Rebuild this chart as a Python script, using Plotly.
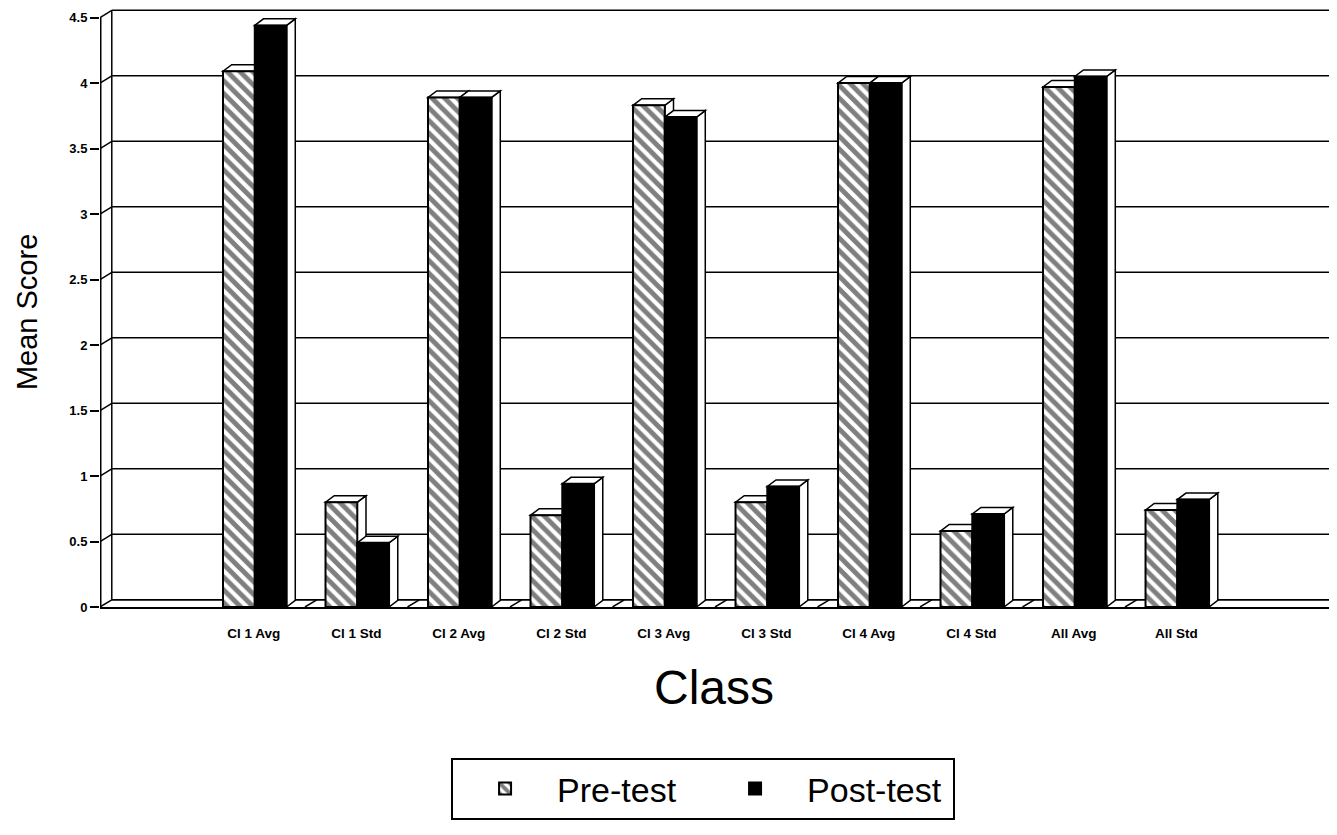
import plotly.graph_objects as go

# ---- data ----
categories = ["Cl 1 Avg", "Cl 1 Std", "Cl 2 Avg", "Cl 2 Std", "Cl 3 Avg",
              "Cl 3 Std", "Cl 4 Avg", "Cl 4 Std", "All Avg", "All Std"]
pre_test = [4.09, 0.80, 3.89, 0.70, 3.83, 0.80, 4.00, 0.58, 3.97, 0.74]
post_test = [4.44, 0.49, 3.89, 0.94, 3.74, 0.92, 4.00, 0.71, 4.05, 0.82]
y_tick_vals = [0, 0.5, 1, 1.5, 2, 2.5, 3, 3.5, 4, 4.5]
y_tick_text = ["0", "0.5", "1", "1.5", "2", "2.5", "3", "3.5", "4", "4.5"]

# ---- geometry / style ----
X_MIN, X_MAX = -1.5, 10.568
Y_MAX = 4.573
BAR_W = 0.31
PRE_OFF, POST_OFF = -0.30, 0.01
DX, DY = 0.085, 0.05          # bar depth
WDX, WDY = 0.115, 0.055       # wall / floor depth
LINE = dict(color="black", width=2)
FONT = "Liberation Sans, Arial, sans-serif"

xpos = list(range(len(categories)))

fig = go.Figure()
fig.add_bar(
    x=xpos, y=pre_test, width=BAR_W, offset=PRE_OFF, name="Pre-test",
    marker=dict(color="white", line=LINE,
                pattern=dict(shape="\\", fgcolor="black", bgcolor="white",
                             size=9, solidity=0.55)),
)
fig.add_bar(
    x=xpos, y=post_test, width=BAR_W, offset=POST_OFF, name="Post-test",
    marker=dict(color="black", line=LINE),
)

shapes = []


def seg(x0, y0, x1, y1, w=1.5):
    shapes.append(dict(type="line", xref="x", yref="y", x0=x0, y0=y0,
                       x1=x1, y1=y1, line=dict(color="black", width=w),
                       layer="below"))


# back-wall gridlines and left wall
for v in y_tick_vals:
    seg(X_MIN + WDX, v + WDY, X_MAX, v + WDY)
    seg(X_MIN, v, X_MIN + WDX, v + WDY)
seg(X_MIN + WDX, WDY, X_MIN + WDX, y_tick_vals[-1] + WDY)
seg(X_MIN, 0, X_MIN, y_tick_vals[-1], w=3)
# floor back edge and floor diagonals
seg(X_MIN + WDX, WDY, X_MAX, WDY)
for i in xpos[:-1]:
    b = i + 0.5
    seg(b, 0, b + WDX, WDY)


def poly(pts):
    d = "M " + " L ".join(f"{x},{y}" for x, y in pts) + " Z"
    shapes.append(dict(type="path", xref="x", yref="y", path=d,
                       fillcolor="white", line=dict(color="black", width=1.5),
                       layer="below"))


# 3D faces of the bars (drawn beneath the bar fronts)
for i in xpos:
    for off, val in ((PRE_OFF, pre_test[i]), (POST_OFF, post_test[i])):
        x0 = i + off
        x1 = x0 + BAR_W
        poly([(x1, 0), (x1, val), (x1 + DX, val + DY), (x1 + DX, DY)])
        poly([(x0, val), (x1, val), (x1 + DX, val + DY), (x0 + DX, val + DY)])

fig.update_layout(
    shapes=shapes,
    barmode="overlay",
    width=1329, height=827,
    margin=dict(l=92, r=0, t=0, b=228),
    plot_bgcolor="white", paper_bgcolor="white",
    font=dict(family=FONT, color="black"),
    showlegend=True,
    legend=dict(orientation="h", x=0.2838, xanchor="left", y=-0.2521,
                yanchor="top", bordercolor="black", borderwidth=2,
                font=dict(size=34, family=FONT), itemwidth=94,
                entrywidth=141, bgcolor="white"),
    xaxis=dict(range=[X_MIN, X_MAX], tickvals=xpos, ticktext=categories,
               showgrid=False, zeroline=False, showline=True,
               linecolor="black", linewidth=2, ticks="", automargin=False,
               ticklabelstandoff=13,
               tickfont=dict(size=13.5, family=FONT, weight="bold")),
    xaxis2=dict(overlaying="x", anchor="y", side="bottom",
                range=[X_MIN, X_MAX],
                tickvals=[i + 0.5 for i in xpos[:-2]] + [X_MAX - 0.03],
                ticktext=[""] * (len(xpos) - 1), ticks="outside",
                ticklen=13, tickwidth=2, tickcolor="black", automargin=False,
                showgrid=False, zeroline=False, showline=False),
    yaxis=dict(range=[0, Y_MAX], tickvals=y_tick_vals, ticktext=y_tick_text,
               ticks="outside", ticklen=9, tickwidth=2, tickcolor="black",
               showgrid=False, zeroline=False, showline=False,
               automargin=False,
               tickfont=dict(size=13, family=FONT, weight="bold")),
    annotations=[
        dict(text="Class", xref="paper", yref="paper", x=0.4964, y=-0.135,
             xanchor="center", yanchor="middle",
             showarrow=False, font=dict(size=48, family=FONT)),
        dict(text="Mean Score", xref="paper", yref="paper", x=-0.0735,
             y=0.4925, xanchor="left", yanchor="middle", textangle=-90,
             showarrow=False, font=dict(size=29, family=FONT)),
    ],
)

fig.write_html("out.html")
